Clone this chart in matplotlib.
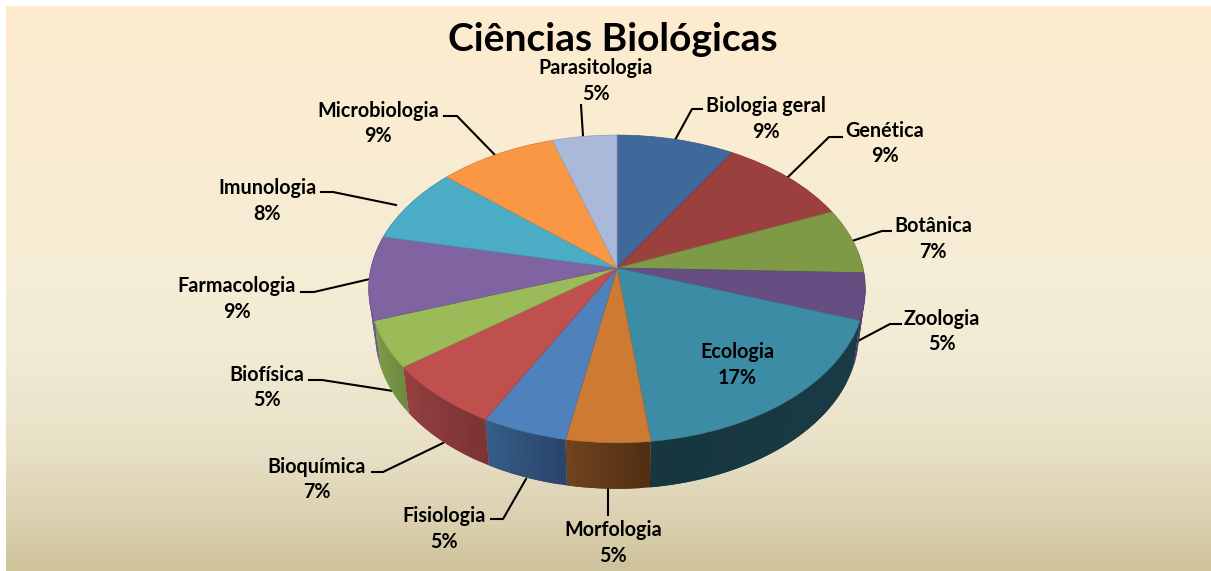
import matplotlib
matplotlib.use("Agg")
import matplotlib.pyplot as plt
import numpy as np
from matplotlib.collections import PolyCollection
from matplotlib.colors import LinearSegmentedColormap, to_rgb
from matplotlib.transforms import Transform

title = "Ciências Biológicas"
areas = ["Biologia geral", "Genética", "Botânica", "Zoologia", "Ecologia", "Morfologia", "Fisiologia",
         "Bioquímica", "Biofísica", "Farmacologia", "Imunologia", "Microbiologia", "Parasitologia"]
percent_labels = ["9%", "9%", "7%", "5%", "17%", "5%", "5%", "7%", "5%", "9%", "8%", "9%", "5%"]
shares = [8.75, 9.85, 6.9, 4.9, 17.7, 4.8, 4.9, 6.9, 4.9, 8.8, 8.0, 8.8, 4.8]

top_colors = ["#3F689C", "#9C3F3F", "#7F9A47", "#664E83", "#3C8CA5", "#CD7A35", "#4F81BD",
              "#C0504D", "#9BBB59", "#8064A2", "#4BACC6", "#F99745", "#AAB9D8"]
wall_left = ["#2F4E75", "#753030", "#5F7435", "#4F3C66", "#17363F", "#6E431D", "#355C86",
             "#934040", "#7F9C48", "#7E68A4", "#38819A", "#BA7034", "#8090A8"]
wall_right = ["#2F4E75", "#753030", "#5F7435", "#4F3C66", "#1A3B47", "#522E14", "#2A456B",
              "#7D3435", "#6F8B40", "#6A5288", "#38819A", "#BA7034", "#8090A8"]

# label centre, percent centre, leader line
label_pos = [(766, 106), (885, 131), (933, 226), (942, 319), (737, 352), (613, 530), (444, 516),
             (317, 467), (267, 375), (237, 286), (267, 188), (378, 111), (596, 68)]
leaders = [[(675, 140), (692, 109), (702, 109)],
           [(788, 177), (829, 137), (842, 137)],
           [(852, 241), (882, 231), (891, 231)],
           [(856, 342), (890, 324), (901, 324)],
           None,
           [(608, 488), (608, 515)],
           [(526, 479), (503, 519), (491, 519)],
           [(443, 443), (383, 472), (372, 472)],
           [(393, 391), (322, 380), (309, 380)],
           [(370, 279), (314, 292), (301, 292)],
           [(396, 205), (333, 192), (321, 192)],
           [(495, 155), (457, 116), (444, 116)],
           [(583, 136), (581, 105)]]

cx, cy = 617, 268
a, b, p = 151, 246, 0.136
depth = 46


def project(x, y):
    w = 1 + p * y
    return cx + b * x / w, cy - a * y / w


class Tilt(Transform):
    input_dims = 2
    output_dims = 2

    def transform_non_affine(self, values):
        values = np.asarray(values)
        px, py = project(values[:, 0], values[:, 1])
        return np.column_stack([px, py])


plt.rcParams["font.family"] = ["Lato", "DejaVu Sans"]
plt.rcParams["font.weight"] = "bold"

fig = plt.figure(figsize=(12.11, 5.71), dpi=100, facecolor="white")
ax = fig.add_axes([0, 0, 1, 1])

wedges, _ = ax.pie(shares, startangle=90, counterclock=False, colors=top_colors, radius=1,
                   wedgeprops={"linewidth": 0.5, "zorder": 4})
ax.set_aspect("auto")

bg = LinearSegmentedColormap.from_list("bg", [(0, "#FDEBCF"), (0.27, "#F9EDD2"), (0.6, "#F2ECD6"),
                                             (0.79, "#E8E0C6"), (0.92, "#DAD0AF"), (1, "#CFC39B")])
ax.imshow(np.linspace(0, 1, 300).reshape(-1, 1), cmap=bg, extent=(6, 1211, 571, 6), aspect="auto", zorder=0)
ax.set_xlim(0, 1211)
ax.set_ylim(571, 0)
ax.set_axis_off()

tilt = Tilt()
edges = np.cumsum([0] + shares) * 3.6
for i, w in enumerate(wedges):
    w.set_transform(tilt + ax.transData)
    w.set_edgecolor(np.array(to_rgb(top_colors[i])) * 0.85)

    # side wall, only the part that faces the viewer
    t1, t2 = max(edges[i], 88), min(edges[i + 1], 288)
    if t2 <= t1:
        continue
    t = np.radians(np.linspace(t1, t2, 61))
    px, py = project(np.sin(t), np.cos(t))
    qx = cx + (px - cx) * 0.973
    qy = py + depth
    # every piece runs under the next one, so no background shows at the joins
    step = 6
    polys = []
    for j in range(0, len(t) - 1, step):
        k = np.arange(j, min(j + step * 2, len(t) - 1) + 1)
        polys.append(np.column_stack([np.r_[px[k], qx[k][::-1]], np.r_[py[k], qy[k][::-1]]]))
    frac = np.linspace(0, 1, len(polys))[:, None]
    # wall colours run from the left end of the slice to the right end, angles run right to left
    shade = np.array(to_rgb(wall_right[i])) * (1 - frac) + np.array(to_rgb(wall_left[i])) * frac
    ax.add_collection(PolyCollection(polys, facecolors=shade, edgecolors="none", zorder=3))

for leader in leaders:
    if leader is None:
        continue
    xs, ys = zip(*leader)
    ax.plot(xs, ys, color="black", lw=1.5, zorder=2, solid_joinstyle="round")

for name, pct, (x, y) in zip(areas, percent_labels, label_pos):
    ax.text(x, y, name, ha="center", va="center", fontsize=14.2, color="black", zorder=6)
    ax.text(x, y + 25.5, pct, ha="center", va="center", fontsize=14.2, color="black", zorder=6)

ax.text(613, 39.5, title, ha="center", va="center", fontsize=28.1, color="black", zorder=6)

fig.savefig("out.png", dpi=100)
